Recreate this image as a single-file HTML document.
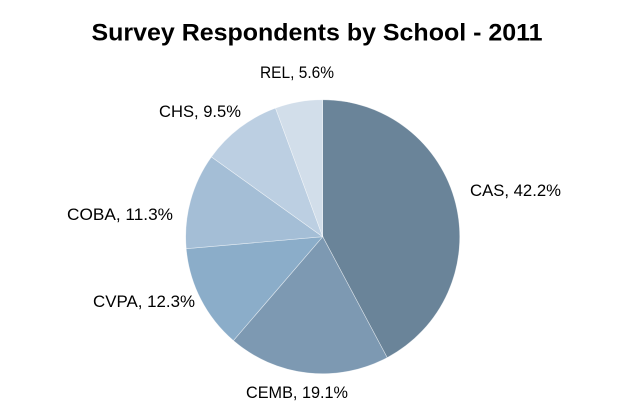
<!DOCTYPE html>
<html>
<head>
<meta charset="utf-8">
<style>
  html, body { margin: 0; padding: 0; background: #ffffff; }
  body { width: 637px; height: 412px; overflow: hidden; }
  svg { display: block; }
  text { font-family: "Liberation Sans", "DejaVu Sans", sans-serif; fill: #000; }
</style>
</head>
<body>
<svg width="637" height="412" viewBox="0 0 637 412" xmlns="http://www.w3.org/2000/svg">
  <rect width="637" height="412" fill="#ffffff"/>
  <text x="91.5" y="40.7" font-size="24" font-weight="bold" textLength="451" lengthAdjust="spacingAndGlyphs">Survey Respondents by School - 2011</text>

  <g stroke="#ffffff" stroke-width="0.6" stroke-opacity="0.6">
    <path d="M322.7,236.7 L322.7,99.7 A137,137 0 0,1 387.2,357.6 Z" fill="#6a8499"/>
    <path d="M322.7,236.7 L387.2,357.6 A137,137 0 0,1 233.4,340.6 Z" fill="#7d99b2"/>
    <path d="M322.7,236.7 L233.4,340.6 A137,137 0 0,1 186.2,248.7 Z" fill="#8badc9"/>
    <path d="M322.7,236.7 L186.2,248.7 A137,137 0 0,1 211.4,156.9 Z" fill="#a4bed6"/>
    <path d="M322.7,236.7 L211.4,156.9 A137,137 0 0,1 275.5,108.1 Z" fill="#bccfe2"/>
    <path d="M322.7,236.7 L275.5,108.1 A137,137 0 0,1 322.7,99.7 Z" fill="#d2deea"/>
  </g>

  <g font-size="16.5">
    <text x="260" y="78" textLength="74" lengthAdjust="spacingAndGlyphs">REL, 5.6%</text>
    <text x="159" y="117" textLength="82" lengthAdjust="spacingAndGlyphs">CHS, 9.5%</text>
    <text x="67" y="220" textLength="106" lengthAdjust="spacingAndGlyphs">COBA, 11.3%</text>
    <text x="93" y="307" textLength="102" lengthAdjust="spacingAndGlyphs">CVPA, 12.3%</text>
    <text x="246" y="398" textLength="102" lengthAdjust="spacingAndGlyphs">CEMB, 19.1%</text>
    <text x="470" y="196" textLength="91" lengthAdjust="spacingAndGlyphs">CAS, 42.2%</text>
  </g>
</svg>
</body>
</html>
